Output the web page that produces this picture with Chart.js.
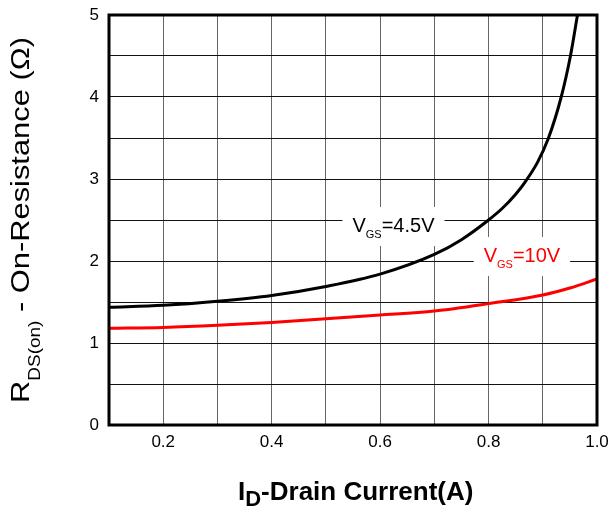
<!DOCTYPE html>
<html><head><meta charset="utf-8">
<script src="https://cdn.jsdelivr.net/npm/chart.js@4.4.1/dist/chart.umd.min.js"></script>
<style>html,body{margin:0;padding:0;background:#fff}#wrap{width:614px;height:510px}</style>
</head><body><div id="wrap"><canvas id="c" width="614" height="510"></canvas></div>
<script>
const xTicks = [0.2, 0.4, 0.6, 0.8, 1.0];
const yTicks = [0, 1, 2, 3, 4, 5];
const idVGS45 = [0.1, 0.2, 0.3, 0.4, 0.5, 0.6, 0.7, 0.75, 0.8, 0.825, 0.85, 0.867, 0.89, 0.91, 0.934, 0.951, 0.964];
const rdsVGS45 = [1.435, 1.46, 1.51, 1.58, 1.69, 1.84, 2.08, 2.26, 2.5, 2.64, 2.815, 2.96, 3.2, 3.49, 4.0, 4.5, 5.0];
const idVGS10 = [0.1, 0.2, 0.3, 0.4, 0.5, 0.6, 0.7, 0.8, 0.9, 0.95, 1.0];
const rdsVGS10 = [1.18, 1.19, 1.215, 1.25, 1.295, 1.34, 1.39, 1.48, 1.585, 1.67, 1.78];
const labels = [
  {main:'V', sub:'GS', rest:'=4.5V', x:0.549, y:2.354, color:'#000'},
  {main:'V', sub:'GS', rest:'=10V', x:0.791, y:1.988, color:'#ff0000'}
];
const FONT = '"Liberation Sans", Arial, sans-serif';

function pts(xs, ys){ return xs.map((x,i)=>({x:x, y:ys[i]})); }

function measureSub(ctx, main, sub, rest, size, subSize, bold){
  const b = bold ? 'bold ' : '';
  ctx.font = b + size + 'px ' + FONT; const w1 = ctx.measureText(main).width; const w3 = ctx.measureText(rest).width;
  ctx.font = b + subSize + 'px ' + FONT; const w2 = ctx.measureText(sub).width;
  return {w1, w2, w3, tot: w1 + w2 + w3};
}
function drawSub(ctx, sx, y, main, sub, rest, size, subSize, subDy, bold){
  const b = bold ? 'bold ' : '';
  const m = measureSub(ctx, main, sub, rest, size, subSize, bold);
  ctx.textBaseline = 'alphabetic'; ctx.textAlign = 'left';
  ctx.font = b + size + 'px ' + FONT; ctx.fillText(main, sx, y);
  ctx.font = b + subSize + 'px ' + FONT; ctx.fillText(sub, sx + m.w1, y + subDy);
  ctx.font = b + size + 'px ' + FONT; ctx.fillText(rest, sx + m.w1 + m.w2, y);
  return m.tot;
}

const overlay = {
  id:'overlay',
  afterDatasetsDraw(chart){
    const ctx = chart.ctx, xs = chart.scales.x, ys = chart.scales.y, a = chart.chartArea;
    labels.forEach(l=>{
      const lx = xs.getPixelForValue(l.x), by = ys.getPixelForValue(l.y);
      ctx.save();
      const m = measureSub(ctx, l.main, l.sub, l.rest, 20, 11, false);
      ctx.fillStyle = '#fff';
      ctx.fillRect(lx - 10, by - 25, m.tot + 20, 39);
      ctx.fillStyle = l.color;
      drawSub(ctx, lx, by, l.main, l.sub, l.rest, 20, 11, 6, false);
      ctx.restore();
    });
    ctx.save();
    ctx.strokeStyle = '#000'; ctx.lineWidth = 3;
    ctx.strokeRect(a.left, a.top, a.right - a.left, a.bottom - a.top);
    ctx.restore();
  },
  afterDraw(chart){
    const ctx = chart.ctx;
    ctx.save();
    ctx.fillStyle = '#000';
    drawSub(ctx, 238, 500, 'I', 'D', '-Drain Current(A)', 26, 22, 6, true);
    ctx.restore();
    ctx.save();
    ctx.fillStyle = '#000';
    ctx.translate(29, 220);
    ctx.rotate(-Math.PI/2);
    const m = measureSub(ctx, 'R', 'DS(on)', ' - On-Resistance (\u03A9)', 26, 16, false);
    const k = 366 / m.tot;
    ctx.scale(k, 1);
    drawSub(ctx, -m.tot/2, 0, 'R', 'DS(on)', ' - On-Resistance (\u03A9)', 26, 16, 11, false);
    ctx.restore();
  }
};

new Chart(document.getElementById('c'), {
  type:'line',
  data:{datasets:[
    {label:'VGS=4.5V', data:pts(idVGS45, rdsVGS45), borderColor:'#000', borderWidth:3, pointRadius:0, cubicInterpolationMode:'monotone', fill:false},
    {label:'VGS=10V', data:pts(idVGS10, rdsVGS10), borderColor:'#ff0000', borderWidth:3, pointRadius:0, cubicInterpolationMode:'monotone', fill:false}
  ]},
  options:{
    responsive:false, animation:false, devicePixelRatio:1,
    layout:{padding:{top:15, right:17, left:0, bottom:0}},
    plugins:{legend:{display:false}, tooltip:{enabled:false}},
    scales:{
      x:{type:'linear', min:0.1, max:1.0,
        afterFit(s){ s.height = 85; s.paddingLeft = 0; s.paddingRight = 0; },
        afterBuildTicks(s){ const t=[]; for(let i=1;i<=10;i++) t.push({value:i/10}); s.ticks=t; },
        grid:{color:'#666', lineWidth:1, drawTicks:false},
        border:{display:false},
        ticks:{color:'#000', font:{family:FONT, size:17}, padding:7, maxRotation:0, autoSkip:false,
          callback(v){ const k=Math.round(v*10); return xTicks.some(t=>Math.round(t*10)===k) ? (k/10).toFixed(1) : ''; }}
      },
      y:{type:'linear', min:0, max:5,
        afterFit(s){ s.width = 109; s.paddingTop = 0; s.paddingBottom = 0; },
        afterBuildTicks(s){ const t=[]; for(let i=0;i<=10;i++) t.push({value:i/2}); s.ticks=t; },
        grid:{color:'#111', lineWidth:1, drawTicks:false},
        border:{display:false},
        ticks:{color:'#000', font:{family:FONT, size:17}, padding:10, autoSkip:false,
          callback(v){ return yTicks.includes(v) ? String(v) : ''; }}
      }
    }
  },
  plugins:[overlay]
});
</script></body></html>
